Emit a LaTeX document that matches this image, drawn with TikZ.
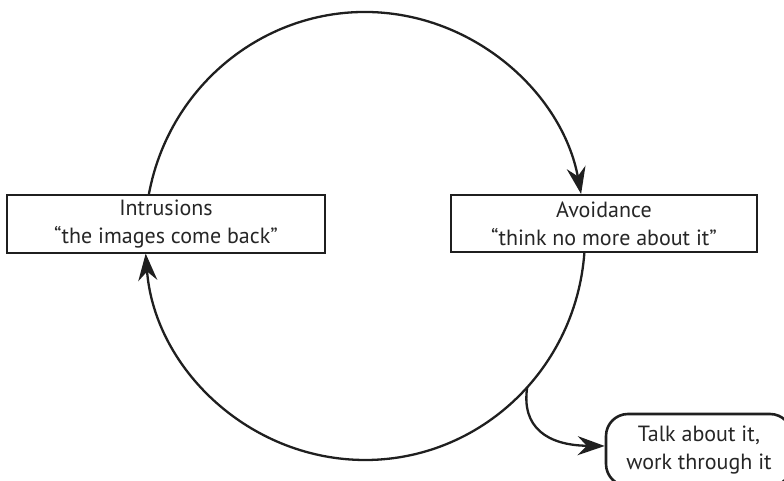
\documentclass[tikz,border=0pt]{standalone}
\usepackage{fontspec}
\setmainfont{PT Sans}
\usetikzlibrary{arrows.meta}
\begin{document}
\begin{tikzpicture}[x=1pt,y=1pt,
  line width=2.3pt,
  box/.style={draw=black!88, line width=2.6pt, fill=white, align=center, inner sep=0pt,
    font=\fontsize{22}{28}\selectfont, text=black!85},
  arr/.style={-{Stealth[length=27pt,width=19pt,inset=9pt]}, draw=black!88}
]
\useasboundingbox (0,0) rectangle (784,481);
\coordinate (c) at (365,245);
% circle arcs
\draw[arr] ([shift={(169.5:220 and 224)}]c) arc[start angle=169.5, end angle=10.8, x radius=220, y radius=224];
\draw[arr] ([shift={(-4.1:220 and 224)}]c) arc[start angle=-4.1, end angle=-175.5, x radius=220, y radius=224];
% boxes
\node[box, minimum width=318pt, minimum height=58pt] (intr) at (166,257) {Intrusions\\“the images come back”};
\node[box, minimum width=306pt, minimum height=57pt] (avoid) at (604,257.5) {Avoidance\\“think no more about it”};
\node[box, rounded corners=22pt, minimum width=186pt, minimum height=72pt] (talk) at (699,31) {Talk about it,\\work through it};
\coordinate (branch) at ([shift={(-42.5:220 and 224)}]c);
\draw[arr] (branch) .. controls ([shift={(-6,-40)}]branch) and ([shift={(20,-58)}]branch) .. (talk.west |- 0,35);
\end{tikzpicture}
\end{document}
